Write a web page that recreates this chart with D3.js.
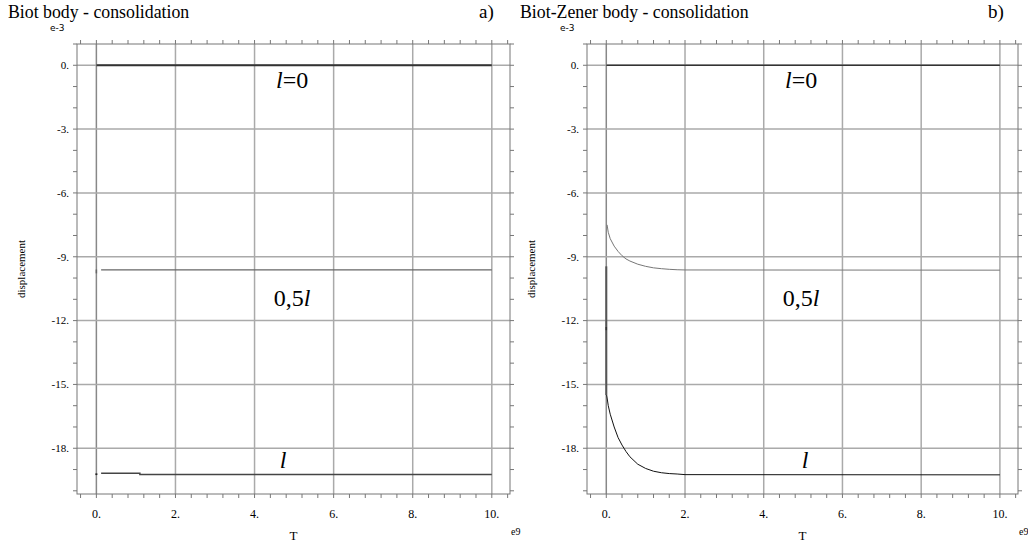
<!DOCTYPE html>
<html>
<head>
<meta charset="utf-8">
<script src="https://cdn.jsdelivr.net/npm/d3@7"></script>
<style>
  body { margin: 0; background: #fff; }
</style>
</head>
<body>
<div id="container"></div>
<script>
  // chart size
  const width = 1028;
  const height = 546;
  const serif = "'Liberation Serif', 'DejaVu Serif', 'Times New Roman', serif";

  // axis ticks (values in e9 and e-3 units)
  const xMajor = [0, 2, 4, 6, 8, 10];
  const yMajor = [0, -3, -6, -9, -12, -15, -18];

  // a) Biot body
  const biotL0 = [[0, 0], [10, 0]];
  const biotHalf = [[0.12, -9.62], [10, -9.62]];
  const biotHalfMark = [[0, -9.6], [0, -9.78]];
  const biotFull = [[0.12, -19.17], [1.1, -19.17], [1.1, -19.23], [10, -19.23]];
  const biotFullMark = [[0, -19.18], [0, -19.26]];

  // b) Biot-Zener body
  const zenerL0 = [[0, 0], [10, 0]];
  const zenerHalf = [
    [0.02, -7.5], [0.05, -7.85], [0.1, -8.15], [0.2, -8.5], [0.3, -8.75],
    [0.4, -8.95], [0.5, -9.1], [0.6, -9.2], [0.8, -9.35], [1.0, -9.45],
    [1.2, -9.52], [1.4, -9.56], [1.6, -9.59], [1.8, -9.61], [2.0, -9.62],
    [10, -9.63]
  ];
  const zenerJump = [[0, -9.45], [0, -15.5]];
  const zenerMark = [[0, -12.3], [0, -12.45]];
  const zenerFull = [
    [0.01, -15.5], [0.05, -16.0], [0.1, -16.4], [0.2, -17.0], [0.3, -17.5],
    [0.4, -17.85], [0.5, -18.15], [0.6, -18.4], [0.8, -18.75], [1.0, -18.95],
    [1.2, -19.08], [1.4, -19.15], [1.6, -19.19], [1.8, -19.21], [2.0, -19.24],
    [10, -19.25]
  ];

  const svg = d3.create("svg")
      .attr("width", width)
      .attr("height", height)
      .attr("font-family", serif);

  function drawPanel(opts) {
    const left = opts.left, right = opts.right;
    const top = 44, bottom = 494;
    const x = d3.scaleLinear().domain([-0.49, 10.46]).range([left, right]);
    const y = d3.scaleLinear().domain([-20.15, 1.0]).range([bottom, top]);
    const g = svg.append("g");

    // grid
    g.selectAll(".vgrid").data(xMajor).join("line")
        .attr("x1", d => x(d)).attr("x2", d => x(d))
        .attr("y1", top).attr("y2", bottom)
        .attr("stroke", d => d === 0 ? "#888" : "#aaa")
        .attr("stroke-width", 1.5);
    g.selectAll(".hgrid").data(yMajor).join("line")
        .attr("x1", left).attr("x2", right)
        .attr("y1", d => y(d)).attr("y2", d => y(d))
        .attr("stroke", "#aaa")
        .attr("stroke-width", 1.5);

    // frame
    g.append("rect")
        .attr("x", left).attr("y", top)
        .attr("width", right - left).attr("height", bottom - top)
        .attr("fill", "none").attr("stroke", "#777");

    // minor ticks
    const xMinor = d3.range(-0.4, 10.41, 0.4).map(v => +v.toFixed(2));
    const yMinor = d3.range(1, -20.01, -1);
    const tk = 4;
    g.append("g").selectAll("line").data(xMinor).join("line")
        .attr("x1", d => x(d)).attr("x2", d => x(d))
        .attr("y1", top).attr("y2", top - tk)
        .attr("stroke", "#777");
    g.append("g").selectAll("line").data(xMinor).join("line")
        .attr("x1", d => x(d)).attr("x2", d => x(d))
        .attr("y1", bottom).attr("y2", bottom + tk)
        .attr("stroke", "#777");
    g.append("g").selectAll("line").data(yMinor).join("line")
        .attr("x1", left).attr("x2", left - tk)
        .attr("y1", d => y(d)).attr("y2", d => y(d))
        .attr("stroke", "#777");
    g.append("g").selectAll("line").data(yMinor).join("line")
        .attr("x1", right).attr("x2", right + tk)
        .attr("y1", d => y(d)).attr("y2", d => y(d))
        .attr("stroke", "#777");

    // tick labels
    g.append("g").selectAll("text").data(xMajor).join("text")
        .attr("x", d => x(d)).attr("y", bottom + 24)
        .attr("text-anchor", "middle")
        .attr("font-size", 12)
        .text(d => d + ".");
    g.append("g").selectAll("text").data(yMajor).join("text")
        .attr("x", left - 8).attr("y", d => y(d)).attr("dy", "0.35em")
        .attr("text-anchor", "end")
        .attr("font-size", 11)
        .text(d => d + ".");

    // exponents
    g.append("text")
        .attr("x", left - 27).attr("y", 31)
        .attr("font-family", "'DejaVu Sans', sans-serif")
        .attr("font-size", 9)
        .text("e-3");
    g.append("text")
        .attr("x", right + 1).attr("y", bottom + 41)
        .attr("font-size", 10)
        .text("e9");

    // axis titles
    g.append("text")
        .attr("x", (left + right) / 2).attr("y", bottom + 46)
        .attr("text-anchor", "middle")
        .attr("font-size", 13)
        .text("T");
    g.append("text")
        .attr("transform", `translate(${left - 52},${(top + bottom) / 2}) rotate(-90)`)
        .attr("text-anchor", "middle")
        .attr("font-size", 11)
        .text("displacement");

    // curves
    const line = d3.line().x(d => x(d[0])).y(d => y(d[1]));
    opts.series.forEach(s => {
      g.append("path")
          .attr("d", line(s.data))
          .attr("fill", "none")
          .attr("stroke", s.color)
          .attr("stroke-width", s.w);
    });

    // curve labels
    opts.labels.forEach(l => {
      const t = g.append("text")
          .attr("x", x(l.t)).attr("y", y(l.u))
          .attr("text-anchor", "middle")
          .attr("font-size", 24);
      l.parts.forEach(p => {
        t.append("tspan")
            .attr("font-style", p[1] ? "italic" : "normal")
            .text(p[0]);
      });
    });

    // titles
    svg.append("text")
        .attr("x", opts.titleX).attr("y", 18)
        .attr("font-size", 17.8)
        .text(opts.title);
    svg.append("text")
        .attr("x", opts.tagX).attr("y", 18)
        .attr("font-size", 19)
        .text(opts.tag);
  }

  drawPanel({
    left: 77, right: 510,
    title: "Biot body - consolidation", titleX: 8,
    tag: "a)", tagX: 479,
    series: [
      {data: biotL0, color: "#333", w: 2},
      {data: biotHalf, color: "#666", w: 1.3},
      {data: biotHalfMark, color: "#666", w: 1.5},
      {data: biotFull, color: "#444", w: 1.5},
      {data: biotFullMark, color: "#222", w: 2}
    ],
    labels: [
      {t: 4.95, u: -1.05, parts: [["l", true], ["=0", false]]},
      {t: 4.95, u: -11.3, parts: [["0,5", false], ["l", true]]},
      {t: 4.72, u: -18.95, parts: [["l", true]]}
    ]
  });

  drawPanel({
    left: 587, right: 1018,
    title: "Biot-Zener body - consolidation", titleX: 520,
    tag: "b)", tagX: 988,
    series: [
      {data: zenerL0, color: "#333", w: 1.5},
      {data: zenerHalf, color: "#777", w: 1},
      {data: zenerJump, color: "#555", w: 2},
      {data: zenerMark, color: "#333", w: 1.5},
      {data: zenerFull, color: "#111", w: 1}
    ],
    labels: [
      {t: 4.95, u: -1.05, parts: [["l", true], ["=0", false]]},
      {t: 4.95, u: -11.3, parts: [["0,5", false], ["l", true]]},
      {t: 5.05, u: -18.95, parts: [["l", true]]}
    ]
  });

  container.append(svg.node());
</script>
</body>
</html>
